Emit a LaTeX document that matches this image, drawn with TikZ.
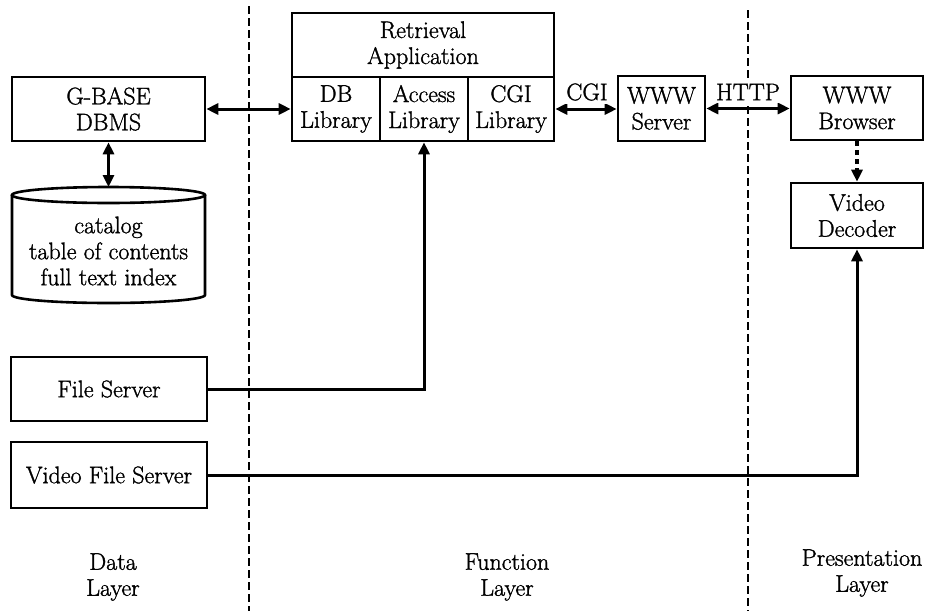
\documentclass[tikz,border=0pt]{standalone}
\usepackage{fontspec}
\setmainfont{Latin Modern Roman}[FakeBold=1.3]
\usetikzlibrary{arrows.meta}
\begin{document}
\begin{tikzpicture}[x=1pt,y=-1pt,
  every node/.style={font=\fontsize{24}{26}\selectfont, align=center, inner sep=0pt},
  box/.style={draw, line width=2.6pt, minimum height=64pt},
  layerline/.style={line width=1.3pt, dash pattern=on 8pt off 4pt},
  conn/.style={line width=3pt, {Triangle[length=12pt,width=11pt]}-{Triangle[length=12pt,width=11pt]}},
  oneway/.style={line width=3pt, -{Triangle[length=12pt,width=11pt]}},
  lbl/.style={fill=white, inner xsep=1pt, inner ysep=3pt}
]
\useasboundingbox (0,0) rectangle (926,611);

% layer separators
\coordinate (d1t) at (249,6);
\coordinate (d1b) at (249,611);
\coordinate (d2t) at (748,10);
\coordinate (d2b) at (748,611);
\draw[layerline] (d1t) -- (d1b);
\draw[layerline] (d2t) -- (d2b);

% data layer
\node[box, minimum width=193pt] (gbase) at (108.5,109) {G-BASE\\DBMS};
\draw[line width=2.6pt] (12,195) -- (12,295) arc[start angle=180, end angle=0, x radius=96.5, y radius=8] -- (205,195);
\draw[line width=2.6pt] (108.5,195) ellipse [x radius=96.5, y radius=8];
\coordinate (dbtop) at (108.5,187);
\node[minimum width=193pt, minimum height=90pt] (db) at (108.5,251) {catalog\\table of contents\\full text index};
\node[box, minimum width=196pt] (fs) at (109,389) {File Server};
\node[box, minimum width=196pt, minimum height=66pt] (vfs) at (109,475) {Video File Server};

% function layer
\node[box, minimum width=262pt] (ret) at (423,45) {Retrieval\\Application};
\node[box, minimum width=88pt] (dblib) at (336,109) {DB\\Library};
\node[box, minimum width=88pt] (acclib) at (424,109) {Access\\Library};
\node[box, minimum width=86pt] (cgilib) at (511,109) {CGI\\Library};
\node[box, minimum width=87pt, minimum height=65pt] (www) at (661.5,108.5) {WWW\\Server};

% presentation layer
\node[box, minimum width=132pt] (browser) at (857,108) {WWW\\Browser};
\node[box, minimum width=132pt, minimum height=65pt] (dec) at (857,215.5) {Video\\Decoder};

% connectors
\draw[conn] (gbase.east) -- (gbase.east -| dblib.west);
\draw[conn] (gbase.south) -- (dbtop);
\draw[conn] (cgilib.east) -- (cgilib.east -| www.west);
\draw[conn] (www.east) -- (www.east -| browser.west);
\draw[line width=3.2pt, dash pattern=on 5pt off 4pt, -{Triangle[length=12pt,width=11pt]}] (browser.south) -- (dec.north);
\draw[oneway] (fs.east) -| (acclib.south);
\draw[oneway] (vfs.east) -| (dec.south);

\node[lbl] (cgil) at (587,92) {CGI};
\node[lbl] (httpl) at (748,92) {HTTP};

% layer labels
\node (ldata) at (113,577) {Data\\Layer};
\node (lfunc) at (507,577) {Function\\Layer};
\node (lpres) at (862,573) {Presentation\\Layer};
\end{tikzpicture}
\end{document}
